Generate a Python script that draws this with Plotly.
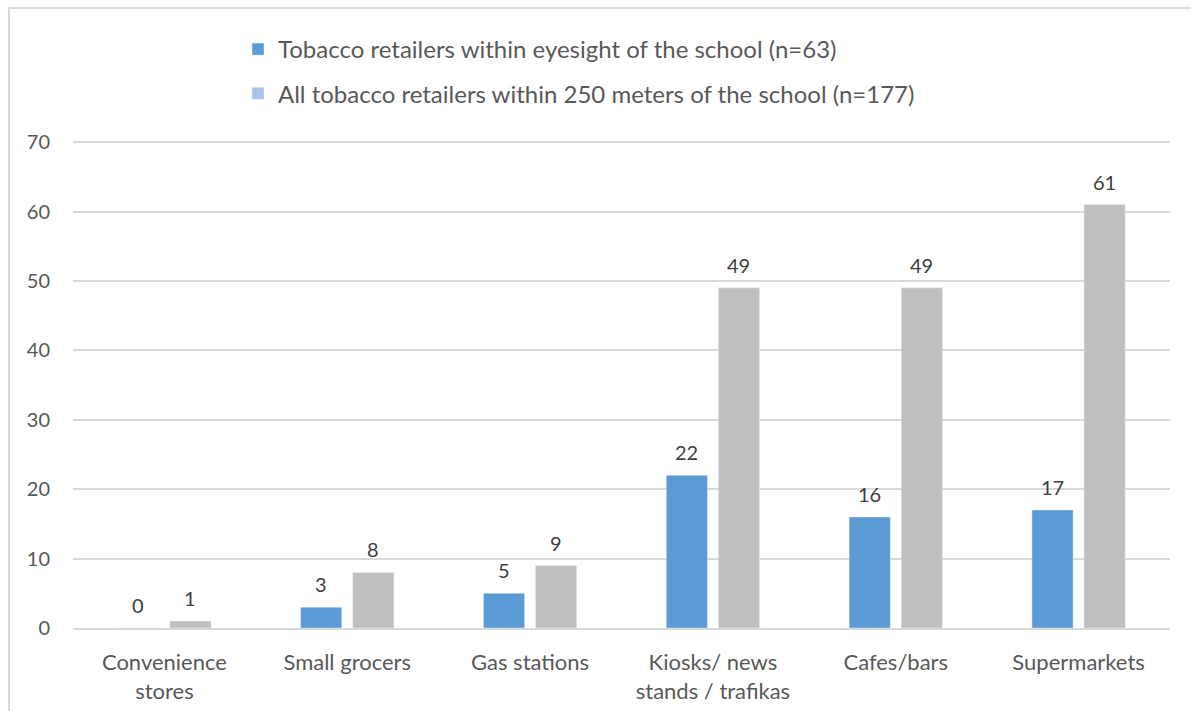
import plotly.graph_objects as go

# Retailer categories and counts
categories = ["Convenience<br>stores", "Small grocers", "Gas stations",
              "Kiosks/ news<br>stands / trafikas", "Cafes/bars", "Supermarkets"]
eyesight_counts = [0, 3, 5, 22, 16, 17]
within_250m_counts = [1, 8, 9, 49, 49, 61]

name_eyesight = "Tobacco retailers within eyesight of the school (n=63)"
name_250m = "All tobacco retailers within 250 meters of the school (n=177)"

y_ticks = [0, 10, 20, 30, 40, 50, 60, 70]

BLUE = "#5B9BD5"
GREY = "#BFBFBF"
LEGEND_LIGHT = "#A9C4E6"
FONT = "Lato, Carlito, Calibri, sans-serif"
TEXT = "#595959"
LABEL = "#404040"

W, H = 1191, 711
M = dict(l=73, r=21, t=140, b=83)
BARGAP, BARGROUPGAP = 0.43, 0.21

fig = go.Figure()

fig.add_trace(go.Bar(
    x=categories, y=eyesight_counts, name=name_eyesight,
    marker_color=BLUE, offsetgroup="a", legendgroup="a", hoverinfo="x+y",
))
fig.add_trace(go.Bar(
    x=categories, y=within_250m_counts, name=name_250m,
    marker_color=GREY, offsetgroup="b", legendgroup="b",
    showlegend=False, hoverinfo="x+y",
))
# Legend entry for the second series (swatch drawn in light blue)
fig.add_trace(go.Bar(
    x=[categories[0]], y=[None], name=name_250m,
    marker_color=LEGEND_LIGHT, offsetgroup="b", legendgroup="b",
    hoverinfo="skip",
))

# Value labels above each bar, offset to the centre of each bar's slot
plot_w = W - M["l"] - M["r"]
slot_px = plot_w / len(categories) * (1 - BARGAP) / 2
annotations = []
for values, shift in ((eyesight_counts, -slot_px / 2), (within_250m_counts, slot_px / 2)):
    for cat, v in zip(categories, values):
        annotations.append(dict(
            x=cat, y=v, xref="x", yref="y", text=str(v), showarrow=False,
            xshift=shift, yshift=9, yanchor="bottom",
            font=dict(size=20, color=LABEL, family=FONT),
        ))

fig.update_layout(
    width=W, height=H,
    margin=dict(**M, autoexpand=False),
    paper_bgcolor="white", plot_bgcolor="white",
    font=dict(family=FONT, color=TEXT, size=20),
    barmode="group", bargap=BARGAP, bargroupgap=BARGROUPGAP,
    legend=dict(
        orientation="v", traceorder="grouped", tracegroupgap=10,
        xref="container", yref="container",
        x=238 / W, y=1 - 27 / H, xanchor="left", yanchor="top",
        font=dict(size=24, color=TEXT, family=FONT),
        bgcolor="rgba(0,0,0,0)", borderwidth=0,
        itemclick=False, itemdoubleclick=False,
    ),
    xaxis=dict(
        showgrid=False, showline=True, linecolor="#D9D9D9", linewidth=1.5,
        ticks="", tickangle=0, automargin=False, ticklabelstandoff=14,
        tickfont=dict(size=22, color=TEXT, family=FONT),
        fixedrange=True,
    ),
    yaxis=dict(
        range=[0, 70.3], tickvals=y_ticks, showgrid=True, gridcolor="#D9D9D9",
        gridwidth=1.5, zeroline=False, showline=False, ticks="",
        automargin=False,
        tickfont=dict(size=20, color=TEXT, family=FONT), ticklabelstandoff=22,
        fixedrange=True,
    ),
    annotations=annotations,
    shapes=[
        # light frame around the chart area
        dict(type="rect", xref="paper", yref="paper",
             x0=(9 - M["l"]) / plot_w, x1=1.1, y0=-0.3,
             y1=(H - M["b"] - 8) / (H - M["t"] - M["b"]),
             line=dict(color="#D9D9D9", width=2), fillcolor="rgba(0,0,0,0)",
             layer="below"),
    ],
    showlegend=True,
)

fig.write_html("out.html", config={"displayModeBar": False})
